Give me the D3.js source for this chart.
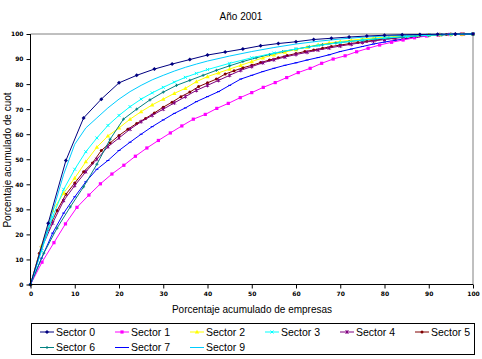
<!DOCTYPE html>
<html><head><meta charset="utf-8">
<script src="https://cdn.jsdelivr.net/npm/d3@7"></script>
<style>body{margin:0;background:#fff}svg{display:block;font-family:"Liberation Sans",Arial,sans-serif}</style>
</head><body>
<svg id="c" width="482" height="359"></svg>
<script>
const title = "Año 2001";
const xTitle = "Porcentaje acumulado de empresas";
const yTitle = "Porcentaje acumulado de cuot";
const tickValues = [0,10,20,30,40,50,60,70,80,90,100];
const seriesNames = ["Sector 0","Sector 1","Sector 2","Sector 3","Sector 4","Sector 5","Sector 6","Sector 7","Sector 9"];

const s0x = [0,4,8,12,16,20,24,28,32,36,40,44,48,52,56,60,64,68,72,76,80,84,88,92,96,100];
const s0y = [0,24.5,49.5,66.5,74,80.5,83.5,86,88,89.8,91.6,92.8,94,95.3,96.2,96.9,97.8,98.3,98.8,99.2,99.5,99.7,99.8,99.9,100,100];

const s1x = [0,2.6,5.3,7.9,10.5,13.2,15.8,18.4,21.1,23.7,26.3,28.9,31.6,34.2,36.8,39.5,42.1,44.7,47.4,50,52.6,55.3,57.9,60.5,63.2,65.8,68.4,71.1,73.7,76.3,78.9,81.6,84.2,86.8,89.5,92.1,94.7,97.4,100];
const s1y = [0,8.9,16.7,24.2,30.8,35.7,40.2,44.1,47.6,51.2,54.5,57.5,60.5,63.3,66,67.9,70.3,72.3,74.6,76.6,78.7,80.6,82.6,84.6,86.3,88.3,90,91.3,92.9,94.3,95.6,96.7,97.6,98.5,99.2,99.6,99.8,99.9,100];

const s2x = [0,2.5,5,7.5,10,12.5,15,17.5,20,22.5,25,27.5,30,32.5,35,37.5,40,42.5,45,47.5,50,52.5,55,57.5,60,62.5,65,67.5,70,72.5,75,77.5,80,82.5,85,87.5,90,92.5,95,97.5,100];
const s2y = [0,15.5,29.5,36.5,42.5,49,54.8,59.3,62.5,66,69,71.7,74,76.3,78.3,81,83,84.5,86,87.5,89,90.5,91.7,92.8,93.8,94.8,95.7,96.4,97,97.5,98,98.4,98.7,99,99.2,99.4,99.6,99.7,99.8,99.9,100];

const s3x = [0,2.5,5,7.5,10,12.5,15,17.5,20,22.5,25,27.5,30,32.5,35,37.5,40,45,50,55,60,65,70,75,80,85,90,95,100];
const s3y = [0,13.5,27,38,46,53,58.5,63.5,67.5,71,74,76.5,78.7,80.8,82.7,84.3,85.8,88.3,90.5,92.4,94,95.4,96.6,97.6,98.4,99,99.5,99.8,100];

const s4x = [0,2.5,5,7.5,10,12.5,15,17.5,20,22.5,25,27.5,30,32.5,35,37.5,40,42.5,45,47.5,50,52.5,55,57.5,60,62.5,65,67.5,70,72.5,75,77.5,80,82.5,85,87.5,90,92.5,95,97.5,100];
const s4y = [0,14.5,24.5,33.5,39.5,45,50,55,58.5,62,65,67.5,70,72.5,75,77.5,79.5,81.5,83.5,85.5,87,88.5,89.7,90.8,91.8,92.7,93.6,94.4,95.2,95.9,96.6,97.2,97.8,98.3,98.8,99.2,99.5,99.7,99.85,99.95,100];

const s5x = [0,2,4,6,8,10,12,14,16,18,20,22,24,26,28,30,32,34,36,38,40,42,44,46,48,50,52,54,56,58,60,62,64,66,68,70,72,74,76,78,80,82,84,86,88,90,92,94,96,98,100];
const s5y = [0,12.5,22,29.5,36,40.5,45,48.5,53.5,56.5,59.5,62,64.3,66.3,68.5,70.8,72.8,75,76.8,79,80.5,82,84,85.3,86.5,87.5,88.6,89.6,90.5,91.4,92.2,93,93.6,94.3,95,95.6,96.1,96.6,97.1,97.6,98,98.4,98.8,99.1,99.4,99.6,99.7,99.8,99.9,100,100];

const s6x = [0,3,6,9,12,15,18,21,24,27,30,33,36,39,42,45,48,51,54,57,60,63,66,69,72,75,78,81,84,87,90,93,96,100];
const s6y = [0,12.5,22.5,31,39,48,58,66,70,73.7,76.8,79.5,81.5,83.5,85.5,87.3,89,90.5,91.8,93,94,94.9,95.7,96.4,97,97.5,98,98.4,98.8,99.2,99.5,99.7,99.9,100];

const s7x = [0,2.5,5,7.5,10,12.5,15,17.5,20,22.5,25,27.5,30,32.5,35,37.5,40,42.5,45,47.5,50,52.5,55,57.5,60,62.5,65,67.5,70,72.5,75,77.5,80,82.5,85,87.5,90,92.5,95,100];
const s7y = [0,10.5,20.5,28.5,35,41,46,49.5,53.5,56.8,60,63,65.7,68.3,70.5,73,75,77,79.5,82,83.5,85,86.3,87.5,88.5,89.6,90.6,91.7,93,94,95,96,96.8,97.5,98.2,98.9,99.4,99.7,99.9,100];

const s9x = [0,2.5,5,7.5,10,12.5,15,17.5,20,22.5,25,27.5,30,32.5,35,37.5,40,45,50,55,60,65,70,75,80,85,90,95,100];
const s9y = [0,14,29,44,56,62.5,66.5,70.5,74,77,79.5,81.7,83.5,85.2,86.7,88,89.2,91.2,93,94.6,96,97.1,98,98.7,99.2,99.5,99.8,99.9,100];

const colors = ["#000080","#FF00FF","#FFFF00","#00FFFF","#800080","#800000","#008080","#0000FF","#00CCFF"];
const markers = ["diamond","square","triangle","x","star","circle","plus","dash","none"];

const series = [
  {x:s0x,y:s0y},{x:s1x,y:s1y},{x:s2x,y:s2y},{x:s3x,y:s3y},{x:s4x,y:s4y},
  {x:s5x,y:s5y},{x:s6x,y:s6y},{x:s7x,y:s7y},{x:s9x,y:s9y}
].map((s,i)=>({name:seriesNames[i],color:colors[i],marker:markers[i],pts:s.x.map((v,j)=>[v,s.y[j]])}));

const svg = d3.select("#c");
const L=30.5, R=473, T=34, B=284.5;
const x = d3.scaleLinear().domain([0,100]).range([L,R]);
const y = d3.scaleLinear().domain([0,100]).range([B,T]);

svg.append("text").attr("x",241).attr("y",20).attr("text-anchor","middle").attr("font-size",10).text(title);

svg.append("path").attr("d",`M${L},${T}H${R}V${B}`).attr("fill","none").attr("stroke","#808080").attr("stroke-width",1);

const drawOrder = [7,1,5,4,2,6,3,8,0];
const line = d3.line().x(d=>x(d[0])).y(d=>y(d[1]));
const plot = svg.append("g");

function marker(g, type, color, cx, cy){
  if(type==="diamond") g.append("path").attr("d",`M${cx},${cy-2}L${cx+2},${cy}L${cx},${cy+2}L${cx-2},${cy}Z`).attr("fill",color);
  else if(type==="square") g.append("rect").attr("x",cx-1.6).attr("y",cy-1.6).attr("width",3.2).attr("height",3.2).attr("fill",color);
  else if(type==="triangle") g.append("path").attr("d",`M${cx},${cy-2.2}L${cx+2.2},${cy+1.6}L${cx-2.2},${cy+1.6}Z`).attr("fill",color);
  else if(type==="x") g.append("path").attr("d",`M${cx-1.5},${cy-1.5}L${cx+1.5},${cy+1.5}M${cx-1.5},${cy+1.5}L${cx+1.5},${cy-1.5}`).attr("stroke",color).attr("stroke-width",1);
  else if(type==="star") g.append("path").attr("d",`M${cx-1.5},${cy-1.5}L${cx+1.5},${cy+1.5}M${cx-1.5},${cy+1.5}L${cx+1.5},${cy-1.5}M${cx},${cy-2}V${cy+2}`).attr("stroke",color).attr("stroke-width",1);
  else if(type==="circle") g.append("circle").attr("cx",cx).attr("cy",cy).attr("r",1.5).attr("fill",color);
  else if(type==="plus") g.append("path").attr("d",`M${cx-1.5},${cy}H${cx+1.5}M${cx},${cy-1.5}V${cy+1.5}`).attr("stroke",color).attr("stroke-width",1);
  else if(type==="dash") g.append("path").attr("d",`M${cx-1.5},${cy}H${cx+1.5}`).attr("stroke",color).attr("stroke-width",1);
}

drawOrder.forEach(i=>{
  const s=series[i];
  const g=plot.append("g");
  g.append("path").datum(s.pts).attr("d",line).attr("fill","none").attr("stroke",s.color).attr("stroke-width",1);
  s.pts.forEach(p=>marker(g,s.marker,s.color,x(p[0]),y(p[1])));
});

const yAxis = d3.axisLeft(y).tickValues(tickValues).tickSize(4).tickPadding(3);
const xAxis = d3.axisBottom(x).tickValues(tickValues).tickSize(4).tickPadding(3);
const gy = svg.append("g").attr("transform",`translate(${L},0)`).call(yAxis);
const gx = svg.append("g").attr("transform",`translate(0,${B})`).call(xAxis);
[gx,gy].forEach(g=>{
  g.select(".domain").attr("stroke","#000");
  g.selectAll(".tick line").attr("stroke","#000");
  g.selectAll("text").attr("font-size",6).attr("font-weight","bold").attr("fill","#000").attr("font-family","DejaVu Sans");
});
gy.select(".domain").attr("d",`M0,${T}V${B}`);
gx.select(".domain").attr("d",`M${L},0H${R}`);

svg.append("text").attr("x",252).attr("y",313).attr("text-anchor","middle").attr("font-size",10).text(xTitle);
svg.append("text").attr("transform","translate(11,160) rotate(-90)").attr("text-anchor","middle").attr("font-size",10).text(yTitle);

const lg = svg.append("g");
lg.append("rect").attr("x",31.5).attr("y",323.5).attr("width",443).attr("height",31).attr("fill","#fff").attr("stroke","#000").attr("stroke-width",1);
series.forEach((s,i)=>{
  const col=i%6,row=Math.floor(i/6);
  const lx=40+col*75, ly=332+row*15.5;
  lg.append("line").attr("x1",lx).attr("x2",lx+14).attr("y1",ly).attr("y2",ly).attr("stroke",s.color).attr("stroke-width",1);
  marker(lg,s.marker,s.color,lx+7,ly);
  lg.append("text").attr("x",lx+16).attr("y",ly+3.8).attr("font-size",10.5).text(s.name);
});
</script>
</body></html>
